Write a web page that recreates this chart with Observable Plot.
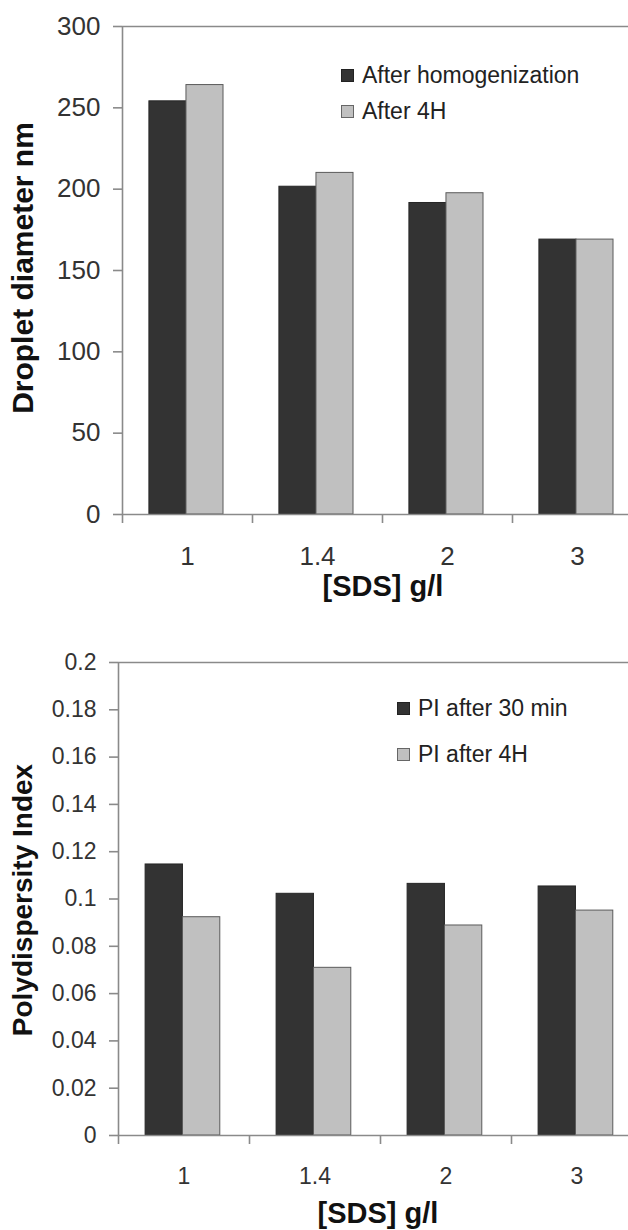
<!DOCTYPE html>
<html>
<head>
<meta charset="utf-8">
<script src="https://cdn.jsdelivr.net/npm/d3@7"></script>
<script src="https://cdn.jsdelivr.net/npm/@observablehq/plot@0.6"></script>
<style>
  html, body { margin: 0; padding: 0; background: #fff; }
  #wrap { position: relative; width: 628px; height: 1230px; overflow: hidden; font-family: "Liberation Sans", Arial, sans-serif; }
  #wrap svg { display: block; }
  .leg { position: absolute; display: flex; align-items: center; font-size: 23px; color: #222; white-space: nowrap; line-height: 1; }
  .sw { width: 13px; height: 13px; margin-right: 8px; box-sizing: border-box; }
  .title { position: absolute; font-weight: bold; color: #111; white-space: nowrap; line-height: 1; }
</style>
</head>
<body>
<div id="wrap"></div>
<script>
// ---- data ----
const categories = ["1", "1.4", "2", "3"];
const diamSeries = ["After homogenization", "After 4H"];
const diamHomog = [254, 201.5, 191.5, 169];
const diam4H = [264, 210, 197.5, 169];
const diamTicks = [0, 50, 100, 150, 200, 250, 300];

const piSeries = ["PI after 30 min", "PI after 4H"];
const pi30 = [0.1146, 0.1022, 0.1064, 0.1053];
const pi4H = [0.0923, 0.0709, 0.0888, 0.0951];
const piTicks = [0, 0.02, 0.04, 0.06, 0.08, 0.1, 0.12, 0.14, 0.16, 0.18, 0.2];

const xTitle = "[SDS] g/l";
const diamTitle = "Droplet diameter nm";
const piTitle = "Polydispersity Index";

const DARK = "#333333", LIGHT = "#c0c0c0", AXIS = "#8a8a8a", TXT = "#333";

function chart({a, b, ticks, ymax, marginLeft, marginTop, marginBottom, height, tickFont, tickFmt}) {
  const rows = categories.map((c, i) => ({cat: c, a: a[i], b: b[i]}));
  const x0 = marginLeft, x1 = 642;
  const bw = (x1 - x0) / categories.length;
  const padL = bw * 0.207, barW = bw * 0.285;
  return Plot.plot({
    width: 628,
    height,
    marginLeft,
    marginRight: 0,
    marginTop,
    marginBottom,
    style: {fontFamily: "Liberation Sans, Arial, sans-serif", color: TXT, background: "#fff"},
    x: {type: "band", domain: categories, range: [x0, x1], padding: 0},
    y: {domain: [0, ymax]},
    marks: [
      Plot.barY(rows, {x: "cat", y: "a", fill: DARK, stroke: "#262626", strokeWidth: 1,
        insetLeft: padL, insetRight: bw - padL - barW}),
      Plot.barY(rows, {x: "cat", y: "b", fill: LIGHT, stroke: "#5a5a5a", strokeWidth: 1,
        insetLeft: padL + barW, insetRight: bw - padL - 2 * barW}),
      Plot.ruleY([ymax], {stroke: AXIS, strokeWidth: 1.6}),
      Plot.ruleY([0], {stroke: AXIS, strokeWidth: 1.6}),
      Plot.ruleX([categories[0]], {y1: 0, y2: ymax, dx: -bw / 2, stroke: AXIS, strokeWidth: 1.6}),
      Plot.axisY({ticks, tickSize: 9, tickPadding: 13, fontSize: tickFont, tickFormat: tickFmt, label: null, stroke: AXIS, strokeWidth: 1.6}),
      Plot.axisX({tickSize: 9, tickFormat: () => "", dx: -bw / 2, label: null, stroke: AXIS, strokeWidth: 1.6}),
      Plot.axisX({tickSize: 0, tickPadding: 32, fontSize: tickFont, label: null})
    ]
  });
}

const wrap = document.getElementById("wrap");

const chartTop = chart({a: diamHomog, b: diam4H, ticks: diamTicks, ymax: 300,
  marginLeft: 122, marginTop: 26, marginBottom: 101, height: 615, tickFont: 26, tickFmt: d3.format("d")});
wrap.appendChild(chartTop);

const chartBot = chart({a: pi30, b: pi4H, ticks: piTicks, ymax: 0.2,
  marginLeft: 118, marginTop: 47, marginBottom: 95, height: 615, tickFont: 23, tickFmt: d => String(+d.toFixed(2))});
wrap.appendChild(chartBot);

function legend(items, left, tops) {
  items.forEach((name, i) => {
    const el = document.createElement("div");
    el.className = "leg";
    el.style.left = left + "px";
    el.style.top = tops[i] + "px";
    const sw = document.createElement("div");
    sw.className = "sw";
    sw.style.background = i === 0 ? DARK : LIGHT;
    sw.style.border = "1px solid " + (i === 0 ? "#222" : "#666");
    const t = document.createElement("span");
    t.textContent = name;
    el.appendChild(sw); el.appendChild(t);
    wrap.appendChild(el);
  });
}
legend(diamSeries, 341, [64, 100]);
legend(piSeries, 397, [697, 743]);

function title(text, cx, cy, size, rotate) {
  const el = document.createElement("div");
  el.className = "title";
  el.textContent = text;
  el.style.fontSize = size + "px";
  wrap.appendChild(el);
  const w = el.offsetWidth, h = el.offsetHeight;
  el.style.left = (cx - w / 2) + "px";
  el.style.top = (cy - h / 2) + "px";
  if (rotate) el.style.transform = "rotate(-90deg)";
}
title(xTitle, 383, 586, 29, false);
title(diamTitle, 23, 268, 30, true);
title(xTitle, 378, 1213, 29, false);
title(piTitle, 23, 900, 28, true);
</script>
</body>
</html>
